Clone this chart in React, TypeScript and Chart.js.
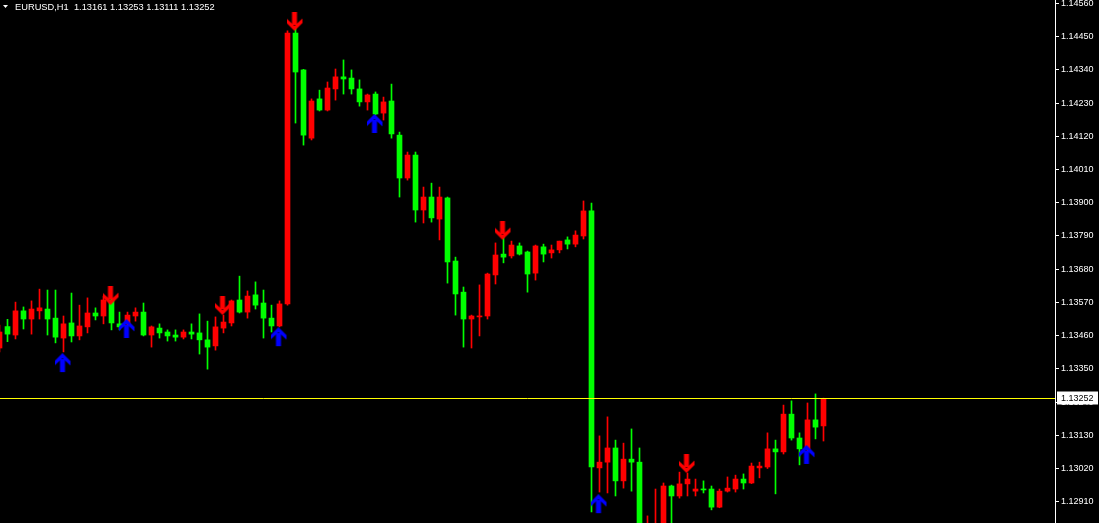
import React, { useEffect, useRef } from 'react';
import { Chart, registerables } from 'chart.js';

Chart.register(...registerables);

const symbolName = 'EURUSD,H1';

const opens = [
  1.13419, 1.13490, 1.13462, 1.13542, 1.13515, 1.13542, 1.13548, 1.13518, 1.13452, 1.13502,
  1.13459, 1.13489, 1.13535, 1.13525, 1.13578, 1.13499, 1.13499, 1.13525, 1.13538, 1.13462,
  1.13485, 1.13472, 1.13462, 1.13455, 1.13472, 1.13469, 1.13446, 1.13426, 1.13485, 1.13502,
  1.13578, 1.13538, 1.13595, 1.13568, 1.13518, 1.13492, 1.13565, 1.14462, 1.14340, 1.14114,
  1.14244, 1.14207, 1.14277, 1.14317, 1.14313, 1.14277, 1.14234, 1.14260, 1.14197, 1.14237,
  1.14124, 1.13982, 1.14058, 1.13876, 1.13919, 1.13846, 1.13916, 1.13707, 1.13604, 1.13515,
  1.13522, 1.13525, 1.13661, 1.13730, 1.13724, 1.13757, 1.13737, 1.13667, 1.13754, 1.13734,
  1.13744, 1.13777, 1.13763, 1.13790, 1.13873, 1.13022, 1.13041, 1.13088, 1.12979, 1.13051,
  1.13041, 1.12767, 1.12750, 1.12783, 1.12962, 1.12929, 1.12969, 1.12945, 1.12952, 1.12952,
  1.12892, 1.12945, 1.12952, 1.12985, 1.12972, 1.13022, 1.13025, 1.13085, 1.13075, 1.13200,
  1.13121, 1.13085, 1.13181, 1.13161,
];

const highs = [
  1.13495, 1.13514, 1.13571, 1.13555, 1.13575, 1.13614, 1.13611, 1.13611, 1.13525, 1.13601,
  1.13561, 1.13585, 1.13552, 1.13591, 1.13585, 1.13538, 1.13538, 1.13552, 1.13568, 1.13492,
  1.13499, 1.13479, 1.13479, 1.13479, 1.13499, 1.13532, 1.13508, 1.13522, 1.13528, 1.13578,
  1.13657, 1.13608, 1.13638, 1.13611, 1.13561, 1.13575, 1.14469, 1.14479, 1.14342, 1.14244,
  1.14273, 1.14300, 1.14343, 1.14373, 1.14340, 1.14307, 1.14260, 1.14267, 1.14250, 1.14293,
  1.14134, 1.14068, 1.14068, 1.13952, 1.13965, 1.13952, 1.13919, 1.13720, 1.13621, 1.13528,
  1.13628, 1.13667, 1.13767, 1.13787, 1.13773, 1.13767, 1.13740, 1.13760, 1.13763, 1.13760,
  1.13773, 1.13787, 1.13807, 1.13906, 1.13899, 1.13128, 1.13191, 1.13114, 1.13104, 1.13151,
  1.13088, 1.12863, 1.12952, 1.12972, 1.12965, 1.13008, 1.13005, 1.12985, 1.12979, 1.12962,
  1.12952, 1.12992, 1.12998, 1.13002, 1.13038, 1.13041, 1.13138, 1.13114, 1.13230, 1.13244,
  1.13138, 1.13237, 1.13267, 1.13253,
];

const lows = [
  1.13406, 1.13440, 1.13449, 1.13482, 1.13465, 1.13515, 1.13462, 1.13436, 1.13406, 1.13439,
  1.13446, 1.13469, 1.13512, 1.13499, 1.13479, 1.13479, 1.13492, 1.13508, 1.13459, 1.13422,
  1.13452, 1.13442, 1.13442, 1.13449, 1.13449, 1.13399, 1.13349, 1.13412, 1.13469, 1.13492,
  1.13535, 1.13518, 1.13548, 1.13452, 1.13472, 1.13489, 1.13561, 1.14164, 1.14091, 1.14108,
  1.14204, 1.14204, 1.14240, 1.14260, 1.14260, 1.14220, 1.14207, 1.14191, 1.14174, 1.14114,
  1.13919, 1.13975, 1.13836, 1.13833, 1.13836, 1.13777, 1.13634, 1.13528, 1.13422, 1.13419,
  1.13459, 1.13515, 1.13631, 1.13701, 1.13717, 1.13727, 1.13604, 1.13644, 1.13704, 1.13717,
  1.13734, 1.13747, 1.13754, 1.13780, 1.12876, 1.12942, 1.12939, 1.12929, 1.12955, 1.12945,
  1.12750, 1.12750, 1.12734, 1.12767, 1.12816, 1.12922, 1.12929, 1.12929, 1.12939, 1.12883,
  1.12890, 1.12942, 1.12942, 1.12952, 1.12970, 1.12989, 1.13020, 1.12936, 1.13068, 1.13114,
  1.13032, 1.13075, 1.13118, 1.13111,
];

const closes = [
  1.13472, 1.13465, 1.13542, 1.13515, 1.13548, 1.13552, 1.13515, 1.13455, 1.13499, 1.13459,
  1.13492, 1.13535, 1.13525, 1.13578, 1.13502, 1.13489, 1.13528, 1.13538, 1.13462, 1.13489,
  1.13469, 1.13459, 1.13455, 1.13472, 1.13465, 1.13446, 1.13422, 1.13489, 1.13505, 1.13575,
  1.13538, 1.13591, 1.13561, 1.13518, 1.13492, 1.13565, 1.14462, 1.14333, 1.14124, 1.14237,
  1.14207, 1.14280, 1.14317, 1.14310, 1.14277, 1.14234, 1.14257, 1.14194, 1.14234, 1.14128,
  1.13982, 1.14058, 1.13876, 1.13919, 1.13850, 1.13919, 1.13704, 1.13598, 1.13515, 1.13525,
  1.13525, 1.13664, 1.13727, 1.13720, 1.13760, 1.13730, 1.13664, 1.13757, 1.13730, 1.13744,
  1.13773, 1.13763, 1.13793, 1.13873, 1.13025, 1.13041, 1.13088, 1.12979, 1.13051, 1.13041,
  1.12783, 1.12823, 1.12830, 1.12962, 1.12929, 1.12969, 1.12985, 1.12952, 1.12949, 1.12892,
  1.12945, 1.12955, 1.12985, 1.12972, 1.13028, 1.13028, 1.13085, 1.13075, 1.13200, 1.13121,
  1.13085, 1.13181, 1.13157, 1.13252,
];

const yTicks = [
  1.12910, 1.13020, 1.13130, 1.13240, 1.13350, 1.13460, 1.13570, 1.13680,
  1.13790, 1.13900, 1.14010, 1.14120, 1.14230, 1.14340, 1.14450, 1.14560,
];

const downArrowBars = [14, 28, 37, 63, 86];
const downArrowPrices = [1.13591, 1.13558, 1.14499, 1.13807, 1.13035];
const upArrowBars = [8, 16, 35, 47, 75, 101];
const upArrowPrices = [1.13369, 1.13482, 1.13455, 1.14161, 1.12902, 1.13065];

const priceMin = 1.128395;
const priceMax = 1.145715;
const barMin = 0.0625;
const barMax = 131.9375;

const BULL = '#ff0000';
const BEAR = '#00ff00';

function makeArrow(color: string, down: boolean): HTMLCanvasElement {
  const c = document.createElement('canvas');
  c.width = 18;
  c.height = 20;
  const g = c.getContext('2d')!;
  g.fillStyle = color;
  if (!down) {
    g.translate(0, 19);
    g.scale(1, -1);
  }
  g.fillRect(5.5, 0, 5, 13);
  g.beginPath();
  g.moveTo(0, 6.5);
  g.lineTo(8, 14);
  g.lineTo(16, 6.5);
  g.lineTo(16, 11);
  g.lineTo(8, 19);
  g.lineTo(0, 11);
  g.closePath();
  g.fill();
  return c;
}

export default function App() {
  const ref = useRef<HTMLCanvasElement>(null);

  useEffect(() => {
    document.body.style.margin = '0';
    document.body.style.background = '#000';
    const canvas = ref.current!;
    const idx = opens.map((_, i) => i);
    const colors = idx.map((i) => (closes[i] > opens[i] ? BULL : BEAR));
    const last = opens.length - 1;
    const downImg = makeArrow('#ff0000', true);
    const upImg = makeArrow('#0000ff', false);

    const overlay = {
      id: 'overlay',
      afterDraw(chart: any) {
        const ctx = chart.ctx;
        const ys = chart.scales.y;
        const area = chart.chartArea;
        const py = Math.round(ys.getPixelForValue(closes[last])) + 0.5;
        ctx.save();
        ctx.strokeStyle = '#ffff00';
        ctx.lineWidth = 1;
        ctx.beginPath();
        ctx.moveTo(area.left, py);
        ctx.lineTo(area.right, py);
        ctx.stroke();
        // price box
        ctx.fillStyle = '#ffffff';
        ctx.fillRect(area.right + 2, py - 7, 41, 13);
        ctx.fillStyle = '#000000';
        ctx.font = '9px "Liberation Sans"';
        ctx.textBaseline = 'middle';
        ctx.textAlign = 'left';
        ctx.fillText(closes[last].toFixed(5), area.right + 6, py);
        // header
        ctx.fillStyle = '#ffffff';
        ctx.beginPath();
        ctx.moveTo(3, 5);
        ctx.lineTo(8, 5);
        ctx.lineTo(5.5, 8);
        ctx.closePath();
        ctx.fill();
        ctx.font = '9.3px "Liberation Sans"';
        ctx.textBaseline = 'alphabetic';
        const header = `${symbolName}  ${opens[last].toFixed(5)} ${highs[last].toFixed(5)} ${lows[last].toFixed(5)} ${closes[last].toFixed(5)}`;
        ctx.fillText(header, 15, 10);
        ctx.restore();
      },
    };

    const chart = new Chart(canvas, {
      type: 'bar',
      data: {
        datasets: [
          {
            type: 'bar',
            label: 'wicks',
            data: idx.map((i) => ({ x: i, y: [lows[i], highs[i]] })) as any,
            backgroundColor: colors,
            borderWidth: 0,
            grouped: false,
            barThickness: 1,
            maxBarThickness: 1,
            order: 3,
          } as any,
          {
            type: 'bar',
            label: 'bodies',
            data: idx.map((i) => ({ x: i, y: [opens[i], closes[i]] })) as any,
            backgroundColor: colors,
            borderWidth: 0,
            grouped: false,
            barThickness: 5,
            maxBarThickness: 5,
            minBarLength: 1,
            order: 2,
          } as any,
          {
            type: 'line',
            label: 'sell',
            data: downArrowBars.map((b, k) => ({ x: b, y: downArrowPrices[k] })),
            showLine: false,
            pointStyle: downImg as any,
            pointRadius: 8,
            order: 1,
          } as any,
          {
            type: 'line',
            label: 'buy',
            data: upArrowBars.map((b, k) => ({ x: b, y: upArrowPrices[k] })),
            showLine: false,
            pointStyle: upImg as any,
            pointRadius: 8,
            order: 1,
          } as any,
        ],
      },
      options: {
        responsive: false,
        animation: false,
        devicePixelRatio: 1,
        layout: { padding: 0, autoPadding: false },
        plugins: { legend: { display: false }, tooltip: { enabled: false } },
        scales: {
          x: {
            type: 'linear',
            display: false,
            offset: false,
            grace: 0,
            bounds: 'data',
            min: barMin,
            max: barMax,
          } as any,
          y: {
            type: 'linear',
            position: 'right',
            min: priceMin,
            max: priceMax,
            border: { display: true, color: '#ffffff', width: 1 },
            grid: {
              display: true,
              drawOnChartArea: false,
              drawTicks: true,
              tickLength: 4,
              color: '#ffffff',
            },
            ticks: {
              color: '#ffffff',
              font: { family: 'Liberation Sans', size: 9 },
              padding: 2,
              autoSkip: false,
              callback: (v: any) => Number(v).toFixed(5),
            },
            afterBuildTicks: (scale: any) => {
              scale.ticks = yTicks.map((v) => ({ value: v }));
            },
            afterFit: (scale: any) => {
              scale.width = 44;
              scale.paddingTop = 0;
              scale.paddingBottom = 0;
            },
          } as any,
        },
      },
      plugins: [overlay],
    });

    return () => chart.destroy();
  }, []);

  return (
    <div style={{ width: 1099, height: 523, background: '#000' }}>
      <canvas ref={ref} width={1099} height={523} style={{ display: 'block' }} />
    </div>
  );
}
